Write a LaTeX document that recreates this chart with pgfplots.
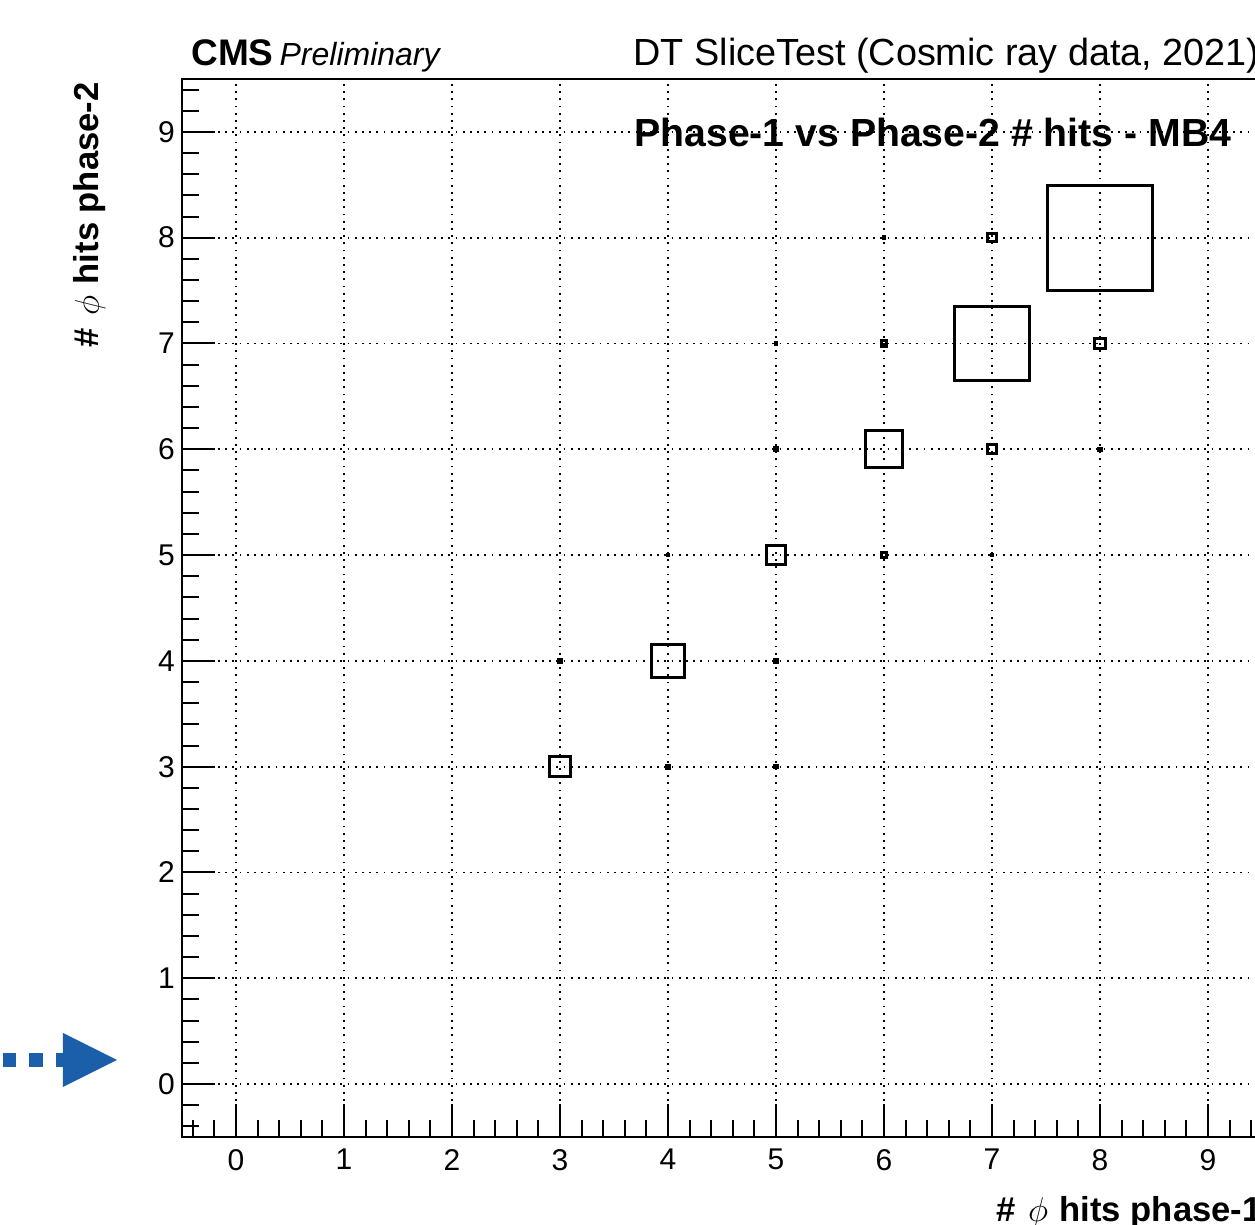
\documentclass[border=0pt]{standalone}
\usepackage{fontspec}
\setmainfont{Liberation Sans}
\usepackage{pgfplots}
\usepackage{pgfplotstable}
\pgfplotsset{compat=1.18}
\definecolor{arrowblue}{RGB}{27,94,170}

% box side as a fraction of the bin width
\pgfplotstableread{
x y w
3 3 0.19
4 4 0.31
5 5 0.17
6 6 0.34
7 7 0.69
8 8 0.97
7 8 0.08
8 7 0.095
7 6 0.08
6 7 0.05
6 8 0.015
5 7 0.015
5 6 0.025
8 6 0.022
6 5 0.045
7 5 0.012
3 4 0.022
5 4 0.022
4 3 0.028
5 3 0.022
4 5 0.015
}\hits

\begin{document}
\begin{tikzpicture}
\begin{axis}[
    set layers,
    at={(0pt,0pt)}, anchor=south west,
    scale only axis, width=540pt, height=529pt,
    xmin=-0.5, xmax=9.5, ymin=-0.5, ymax=9.5,
    xtick={0,...,9}, ytick={0,...,9},
    minor xtick={-0.4,-0.2,...,9.4},
    minor ytick={-0.4,-0.2,...,9.4},
    tick align=inside, tick pos=left,
    major tick length=16.5pt, minor tick length=8.5pt,
    tick style={black, line width=1pt},
    axis line style={line width=1.3pt},
    grid=major,
    major grid style={black, line width=0.9pt, dash pattern=on 0.9pt off 2.7pt},
    /pgf/number format/assume math mode=true,
    ticklabel style={font=\fontsize{15}{17}\selectfont},
    xticklabel style={yshift=-2.5pt},
]
\node[on layer=axis background, anchor=base east, inner sep=0,
      font=\fontsize{19.6}{22}\selectfont\bfseries]
  at (axis cs:9.22,8.86) {Phase-1 vs Phase-2 \# hits - MB4};

\addplot[
    scatter, only marks, mark=square, black,
    point meta={\thisrow{w}},
    visualization depends on={\thisrow{w} \as \wbox},
    scatter/@pre marker code/.code={%
      \pgfmathsetmacro{\ms}{27*\wbox}%
      \scope[mark size=\ms pt, draw=black, fill=none, line width=1.5pt]},
    scatter/@post marker code/.code={\endscope},
] table[x=x, y=y] {\hits};
\end{axis}

% header and axis titles
\node[anchor=base west, inner sep=0] at (4.5pt,535.5pt)
  {\fontsize{18.5}{20}\selectfont\bfseries CMS\hspace{3pt}\fontsize{16}{18}\selectfont\mdseries\itshape Preliminary};
\node[anchor=base east, inner sep=0] at (539pt,535.5pt)
  {\fontsize{18.9}{21}\selectfont DT SliceTest (Cosmic ray data, 2021)};
\node[anchor=base east, inner sep=0] at (540pt,-42.5pt)
  {\fontsize{17.3}{19}\selectfont\bfseries \#\hspace{6pt}{\mdseries$\phi$}\hspace{1pt} hits phase-1};
\node[rotate=90, anchor=base east, inner sep=0] at (-41.5pt,527.5pt)
  {\fontsize{17.3}{19}\selectfont\bfseries \#\hspace{6pt}{\mdseries$\phi$}\hspace{1pt} hits phase-2};

% blue marker arrow on the left
\fill[arrowblue] (-89.5pt,35pt) rectangle (-83pt,42pt);
\fill[arrowblue] (-76.5pt,35pt) rectangle (-69.5pt,42pt);
\fill[arrowblue] (-63pt,35pt) rectangle (-59.5pt,42pt);
\fill[arrowblue] (-59.5pt,52pt) -- (-32.5pt,38.5pt) -- (-59.5pt,25pt) -- cycle;

\pgfresetboundingbox
\useasboundingbox (-91pt,-44pt) rectangle (536.5pt,568.5pt);
\end{tikzpicture}
\end{document}
